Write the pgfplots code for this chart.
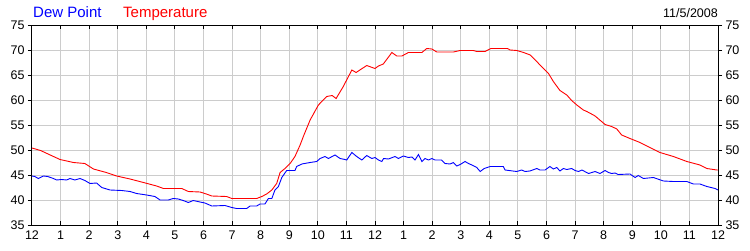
\documentclass[border=0pt]{standalone}
\usepackage{pgfplots}
\pgfplotsset{compat=1.18}
\usepackage{fontspec}
\setmainfont{Liberation Sans}
\definecolor{gridgray}{RGB}{204,204,204}
\definecolor{dewblue}{RGB}{0,0,255}
\definecolor{tempred}{RGB}{255,0,0}
\begin{document}
\begin{tikzpicture}[x=1pt,y=1pt]
\useasboundingbox (0,0) rectangle (750,250);
\pgfplotsset{
  base/.style={
    at={(32pt,25pt)}, anchor=south west,
    scale only axis, width=686pt, height=200pt,
    xmin=0, xmax=24, ymin=35, ymax=75,
    xtick={0,...,24}, ytick={35,40,...,75},
    axis line style={black, line width=1pt},
    tick style={black, line width=1pt},
    /pgf/number format/assume math mode=true,
    tick label style={font=\fontsize{12.5}{14}\selectfont},
  }
}
\begin{axis}[base,
  xticklabels={12,1,2,3,4,5,6,7,8,9,10,11,12,1,2,3,4,5,6,7,8,9,10,11,12},
  grid=major, major grid style={gridgray, line width=1pt},
  xtick align=inside, ytick align=outside,
  xtick pos=both, ytick pos=both, yticklabel pos=left,
  major tick length=4pt,
  xticklabel style={yshift=-2pt},
  yticklabel style={xshift=0pt},
]
\addplot[dewblue, line width=0.9pt] coordinates {
(0,44.8)(0.1,44.7)(0.22,44.3)(0.4,44.8)(0.55,44.7)(0.75,44.3)(0.86,44.0)(1.04,44.1)(1.21,44.0)(1.33,44.3)(1.5,44.0)(1.68,44.3)(1.85,43.9)(2.03,43.3)(2.26,43.4)(2.44,42.5)(2.73,42.0)(3.14,41.9)(3.43,41.7)(3.66,41.3)(4.01,41.0)(4.3,40.7)(4.48,40.0)(4.77,40.0)(4.94,40.3)(5.12,40.2)(5.29,39.9)(5.47,39.5)(5.64,39.9)(5.88,39.6)(6.05,39.4)(6.29,38.8)(6.75,38.9)(6.99,38.5)(7.16,38.3)(7.51,38.3)(7.63,38.8)(7.86,38.8)(7.98,39.2)(8.15,39.2)(8.27,40.3)(8.39,40.3)(8.5,42.0)(8.62,42.7)(8.74,44.5)(8.91,45.9)(9.2,45.9)(9.26,46.7)(9.44,47.2)(9.73,47.5)(9.96,47.7)(10.08,48.3)(10.25,48.7)(10.37,48.3)(10.6,49.0)(10.78,48.3)(10.95,48.1)(11.01,48.0)(11.19,49.5)(11.36,48.7)(11.54,48.0)(11.71,48.9)(11.89,48.3)(12.0,48.5)(12.12,48.0)(12.24,47.7)(12.3,48.3)(12.47,48.2)(12.7,48.7)(12.82,48.3)(12.99,48.8)(13.17,48.5)(13.29,48.6)(13.4,48.0)(13.52,49.1)(13.64,47.7)(13.75,48.3)(13.87,48.0)(13.99,48.3)(14.1,48.0)(14.33,48.0)(14.45,47.3)(14.63,47.2)(14.74,47.5)(14.86,46.8)(14.98,47.1)(15.15,47.7)(15.27,47.3)(15.39,47.0)(15.56,46.5)(15.68,45.7)(15.82,46.3)(16.03,46.7)(16.49,46.7)(16.55,46.0)(16.96,45.7)(17.13,46.0)(17.25,45.7)(17.42,45.8)(17.66,46.3)(17.77,46.0)(17.95,46.0)(18.12,46.7)(18.24,46.2)(18.36,46.5)(18.47,45.8)(18.59,46.3)(18.71,46.1)(18.88,46.3)(19.0,45.9)(19.12,45.7)(19.24,46.0)(19.47,45.3)(19.7,45.7)(19.87,45.3)(20.05,45.9)(20.17,45.5)(20.28,45.3)(20.4,45.4)(20.51,45.1)(20.92,45.2)(21.1,44.5)(21.21,44.9)(21.39,44.3)(21.74,44.5)(22.09,43.8)(22.44,43.7)(22.91,43.7)(23.14,43.2)(23.37,43.2)(23.61,42.7)(23.9,42.3)(24,42.0)
};
\addplot[tempred, line width=0.9pt] coordinates {
(0,50.4)(0.3,49.9)(0.6,49.1)(0.98,48.1)(1.45,47.5)(1.85,47.3)(2.15,46.2)(2.6,45.5)(2.96,44.8)(3.43,44.2)(3.9,43.5)(4.36,42.8)(4.6,42.3)(5.24,42.3)(5.47,41.7)(5.88,41.6)(6.1,41.2)(6.29,40.8)(6.81,40.7)(6.99,40.3)(7.86,40.3)(8.04,40.7)(8.21,41.2)(8.39,42.0)(8.56,43.3)(8.68,45.5)(8.85,46.3)(9.03,47.3)(9.2,48.7)(9.38,51.0)(9.5,52.8)(9.73,56.0)(10.02,59.0)(10.31,60.7)(10.5,60.9)(10.64,60.3)(10.89,62.7)(11.19,66.0)(11.34,65.5)(11.71,66.9)(12.0,66.3)(12.12,66.8)(12.29,67.2)(12.59,69.5)(12.76,68.8)(12.94,68.8)(13.17,69.5)(13.64,69.5)(13.81,70.3)(13.99,70.2)(14.16,69.6)(14.74,69.6)(14.98,69.9)(15.44,69.9)(15.56,69.7)(15.85,69.7)(16.05,70.3)(16.63,70.3)(16.73,70.0)(16.96,69.9)(17.2,69.5)(17.43,69.0)(17.66,67.7)(17.77,67.0)(18.07,65.3)(18.24,63.7)(18.47,61.9)(18.71,61.0)(18.88,59.9)(19.06,59.0)(19.29,58.0)(19.41,57.7)(19.64,57.0)(19.7,56.8)(20.05,55.1)(20.28,54.7)(20.46,54.2)(20.63,53.0)(20.92,52.3)(21.27,51.5)(21.51,50.8)(21.97,49.5)(22.44,48.7)(22.91,47.7)(23.37,47.0)(23.61,46.3)(23.96,46.0)(24,46.0)
};
\end{axis}
\begin{axis}[base,
  axis x line=none, axis y line*=right,
  ytick align=outside, major tick length=4pt,
  ytick pos=right, yticklabel pos=right,
]
\end{axis}
\node[anchor=base west, text=dewblue, font=\fontsize{15}{17}\selectfont, inner sep=0pt] at (33,233) {Dew Point};
\node[anchor=base west, text=tempred, font=\fontsize{15}{17}\selectfont, inner sep=0pt] at (123,233) {Temperature};
\node[anchor=base east, text=black, font=\fontsize{12.5}{14}\selectfont, inner sep=0pt] at (718,233) {11/5/2008};
\end{tikzpicture}
\end{document}
